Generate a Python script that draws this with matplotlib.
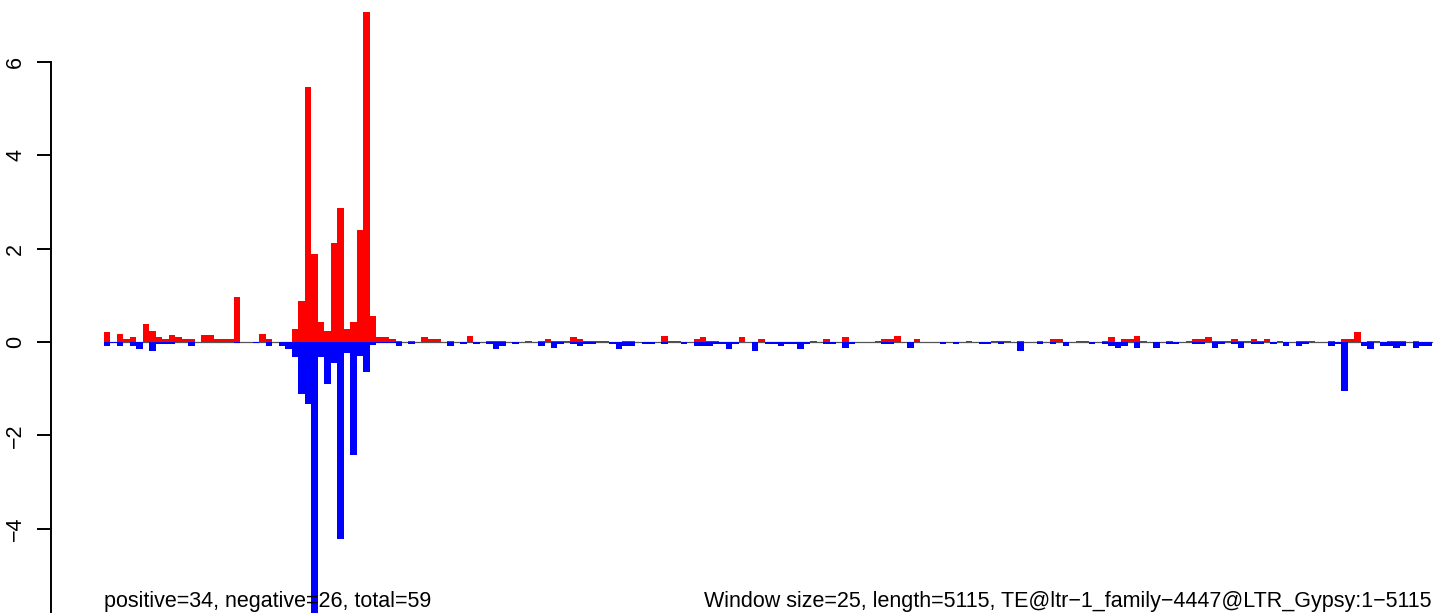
import matplotlib
matplotlib.use("Agg")
import matplotlib.pyplot as plt
import numpy as np

plt.rcParams['font.family'] = ['Liberation Sans', 'DejaVu Sans']

# window-level signal (window size 25, 205 windows)
positive = [
    0.22, 0.00, 0.18, 0.07, 0.11, 0.00, 0.39, 0.24, 0.11, 0.07,
    0.14, 0.11, 0.07, 0.07, 0.00, 0.14, 0.14, 0.07, 0.07, 0.07,
    0.97, 0.00, 0.00, 0.00, 0.18, 0.07, 0.00, 0.00, 0.00, 0.28,
    0.88, 5.46, 1.88, 0.42, 0.23, 2.13, 2.88, 0.27, 0.42, 2.40,
    7.08, 0.56, 0.11, 0.11, 0.07, 0.03, 0.00, 0.02, 0.00, 0.11,
    0.06, 0.06, 0.00, 0.02, 0.00, 0.00, 0.13, 0.00, 0.00, 0.02,
    0.02, 0.02, 0.00, 0.00, 0.00, 0.02, 0.00, 0.02, 0.06, 0.02,
    0.02, 0.02, 0.11, 0.06, 0.02, 0.02, 0.02, 0.02, 0.00, 0.00,
    0.02, 0.02, 0.00, 0.00, 0.00, 0.00, 0.13, 0.02, 0.02, 0.00,
    0.00, 0.06, 0.11, 0.02, 0.02, 0.00, 0.00, 0.00, 0.11, 0.00,
    0.00, 0.06, 0.00, 0.00, 0.00, 0.00, 0.00, 0.00, 0.00, 0.02,
    0.00, 0.06, 0.00, 0.00, 0.11, 0.00, 0.00, 0.00, 0.00, 0.02,
    0.06, 0.06, 0.13, 0.00, 0.00, 0.06, 0.00, 0.00, 0.00, 0.00,
    0.00, 0.00, 0.00, 0.02, 0.00, 0.00, 0.00, 0.02, 0.02, 0.02,
    0.00, 0.02, 0.00, 0.00, 0.02, 0.00, 0.06, 0.06, 0.00, 0.00,
    0.02, 0.02, 0.00, 0.00, 0.02, 0.11, 0.00, 0.06, 0.06, 0.13,
    0.02, 0.00, 0.00, 0.00, 0.02, 0.00, 0.00, 0.02, 0.06, 0.06,
    0.11, 0.02, 0.02, 0.02, 0.06, 0.02, 0.02, 0.06, 0.02, 0.06,
    0.00, 0.02, 0.00, 0.00, 0.02, 0.02, 0.02, 0.00, 0.00, 0.02,
    0.00, 0.06, 0.06, 0.21, 0.00, 0.02, 0.02, 0.00, 0.02, 0.02,
    0.02, 0.00, 0.02, 0.00, 0.00,
]
negative = [
    0.08, 0.03, 0.08, 0.00, 0.08, 0.14, 0.00, 0.19, 0.04, 0.04,
    0.04, 0.00, 0.00, 0.08, 0.00, 0.00, 0.00, 0.00, 0.00, 0.00,
    0.03, 0.00, 0.00, 0.03, 0.00, 0.08, 0.00, 0.08, 0.15, 0.33,
    1.11, 1.32, 5.90, 0.33, 0.89, 0.44, 4.22, 0.23, 2.42, 0.29,
    0.65, 0.07, 0.03, 0.02, 0.02, 0.08, 0.00, 0.04, 0.00, 0.00,
    0.00, 0.00, 0.00, 0.08, 0.00, 0.04, 0.00, 0.04, 0.00, 0.04,
    0.14, 0.08, 0.00, 0.04, 0.00, 0.00, 0.00, 0.08, 0.00, 0.12,
    0.04, 0.00, 0.04, 0.08, 0.04, 0.04, 0.00, 0.00, 0.04, 0.14,
    0.08, 0.08, 0.00, 0.04, 0.04, 0.00, 0.04, 0.00, 0.00, 0.04,
    0.00, 0.08, 0.08, 0.08, 0.04, 0.04, 0.14, 0.04, 0.00, 0.00,
    0.19, 0.00, 0.04, 0.04, 0.08, 0.04, 0.04, 0.14, 0.04, 0.00,
    0.00, 0.04, 0.04, 0.00, 0.12, 0.04, 0.00, 0.00, 0.00, 0.00,
    0.04, 0.04, 0.00, 0.00, 0.12, 0.00, 0.00, 0.00, 0.00, 0.04,
    0.00, 0.04, 0.00, 0.00, 0.00, 0.04, 0.04, 0.00, 0.04, 0.00,
    0.00, 0.19, 0.00, 0.00, 0.04, 0.00, 0.04, 0.00, 0.08, 0.00,
    0.00, 0.00, 0.04, 0.00, 0.04, 0.08, 0.12, 0.08, 0.00, 0.12,
    0.00, 0.00, 0.12, 0.00, 0.04, 0.04, 0.00, 0.00, 0.04, 0.04,
    0.00, 0.12, 0.04, 0.00, 0.04, 0.12, 0.00, 0.04, 0.04, 0.00,
    0.04, 0.00, 0.08, 0.00, 0.08, 0.04, 0.00, 0.00, 0.00, 0.08,
    0.04, 1.04, 0.00, 0.00, 0.08, 0.14, 0.00, 0.08, 0.08, 0.12,
    0.08, 0.00, 0.12, 0.08, 0.08,
]
yticks = [-6, -4, -2, 0, 2, 4, 6]
left_label = "positive=34, negative=26, total=59"
right_label = "Window size=25, length=5115, TE@ltr\u22121_family\u22124447@LTR_Gypsy:1\u22125115"

W, H = 1441, 613
fig = plt.figure(figsize=(W / 100, H / 100), dpi=100)

n = len(positive)
px_per_bar = 1328 / n
x_left = 104 - 51
xlim = (-x_left / px_per_bar, -x_left / px_per_bar + (W - 51) / px_per_bar)

px_per_unit = 280 / 6
ytop, ybot = 7.3, -7.3
ax_top_px = 342 - ytop * px_per_unit
ax_h_px = (ytop - ybot) * px_per_unit
ax = fig.add_axes([51 / W, (H - ax_top_px - ax_h_px) / H, (W - 51) / W, ax_h_px / H])
ax.set_xlim(*xlim)
ax.set_ylim(ybot, ytop)

x = np.arange(n)
ax.plot([0, n], [0, 0], color='#555555', lw=0.9, zorder=1)
ax.bar(x, positive, width=1.0, align='edge', color='#FF0000', linewidth=0, zorder=2)
ax.bar(x, -np.array(negative), width=1.0, align='edge', color='#0000FF', linewidth=0, zorder=2)

for s in ['top', 'right', 'bottom']:
    ax.spines[s].set_visible(False)
ax.spines['left'].set_bounds(-6, 6)
ax.spines['left'].set_linewidth(1.4)
ax.set_xticks([])
ax.set_yticks(yticks)
ax.set_yticklabels([str(v).replace('-', '\u2212') for v in yticks])
ax.tick_params(axis='y', length=10, width=1.4, pad=8, labelsize=15.5, labelrotation=90)
for lab in ax.get_yticklabels():
    lab.set_va('center')
ax.patch.set_visible(False)

fig.text(104 / W, (H - 607) / H, left_label, ha='left', va='baseline', fontsize=15.5, zorder=5)
fig.text(1432 / W, (H - 607) / H, right_label, ha='right', va='baseline', fontsize=15.5, zorder=5)

fig.savefig('out.png', dpi=100)
